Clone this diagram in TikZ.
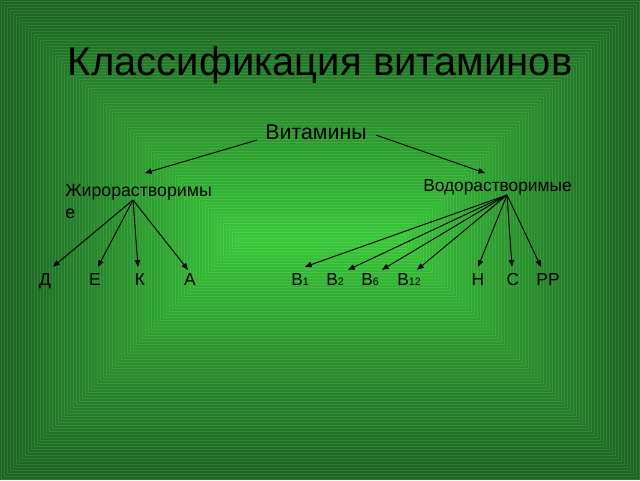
\documentclass[tikz,border=0pt]{standalone}
\usepackage{fontspec}
\setmainfont{Liberation Sans}
\usetikzlibrary{arrows.meta,calc}
\definecolor{gedge}{RGB}{28,100,34}
\definecolor{gcenter}{RGB}{56,200,56}
\tikzset{
  lbl/.style={inner sep=0pt, anchor=base, text=black},
  big/.style={lbl, font=\fontsize{30}{36}\selectfont},
  mid/.style={lbl, font=\fontsize{16}{18}\selectfont},
  sml/.style={lbl, font=\fontsize{13}{16}\selectfont},
  arr/.style={draw=black, line width=0.7pt, -{Triangle[length=5pt,width=4pt]}},
}
\newcommand{\sbs}[1]{{\fontsize{8}{8}\selectfont #1}}
\begin{document}
\begin{tikzpicture}[x=0.75pt,y=-0.75pt]
\useasboundingbox (0,0) rectangle (640,480);
% background: concentric rectangles
\foreach \i in {0,3,...,237} {
  \pgfmathsetmacro\p{100*(\i/240)^1.1}
  \colorlet{bgc}{gcenter!\p!gedge}
  \colorlet{bgl}{white!10!bgc}
  \fill[bgc] (\i,\i) rectangle (640-\i,480-\i);
  \draw[bgl, line width=0.35pt] (\i+1,\i+1) rectangle (639-\i,479-\i);
}
% texts
\node[big] (title) at (320,75) {Классификация витаминов};
\node[mid] (vit) at (316,139) {Витамины};
\node[sml, anchor=base west, font=\fontsize{13.3}{16}\selectfont] (zh) at (65,196) {Жирорастворимы};
\node[sml, anchor=base west, font=\fontsize{13.3}{16}\selectfont] (zhe) at (65,218) {е};
\node[sml, anchor=base west] (vod) at (423,191) {Водорастворимые};
\node[sml] (d) at (45,285) {Д};
\node[sml] (e) at (95,285) {Е};
\node[sml] (k) at (140,285) {К};
\node[sml] (a) at (190,285) {А};
\node[sml, anchor=base west] (b1) at (291,285) {В\sbs{1}};
\node[sml, anchor=base west] (b2) at (326,285) {В\sbs{2}};
\node[sml, anchor=base west] (b6) at (361,285) {В\sbs{6}};
\node[sml, anchor=base west] (b12) at (397,285) {В\sbs{12}};
\node[sml] (h) at (478,285) {Н};
\node[sml] (c) at (513,285) {С};
\node[sml] (pp) at (548,285) {РР};
% hubs
\coordinate (vl) at ($(vit.base west)+(-8,1)$);
\coordinate (vr) at ($(vit.base east)+(9,-4)$);
\coordinate (zhhub) at (133,200);
\coordinate (vodhub) at (507,195);
\draw[arr] (vl) -- (145,173) coordinate (zhtop);
\draw[arr] (vr) -- (485,173) coordinate (vodtop);
\draw[arr] (zhhub) -- ($(d.north)+(8,-6)$);
\draw[arr] (zhhub) -- ($(e.north)+(3,-6)$);
\draw[arr] (zhhub) -- ($(k.north)+(-2,-6)$);
\draw[arr] (zhhub) -- ($(a.north)+(-2,-3)$);
\draw[arr] (vodhub) -- ($(b1.north west)+(14,-6)$);
\draw[arr] (vodhub) -- ($(b2.north west)+(22,-3)$);
\draw[arr] (vodhub) -- ($(b6.north west)+(21,-3)$);
\draw[arr] (vodhub) -- ($(b12.north west)+(20,-3)$);
\draw[arr] (vodhub) -- ($(h.north)+(0,-6)$);
\draw[arr] (vodhub) -- ($(c.north)+(-1,-6)$);
\draw[arr] (vodhub) -- ($(pp.north)+(-7,-6)$);
\end{tikzpicture}
\end{document}
